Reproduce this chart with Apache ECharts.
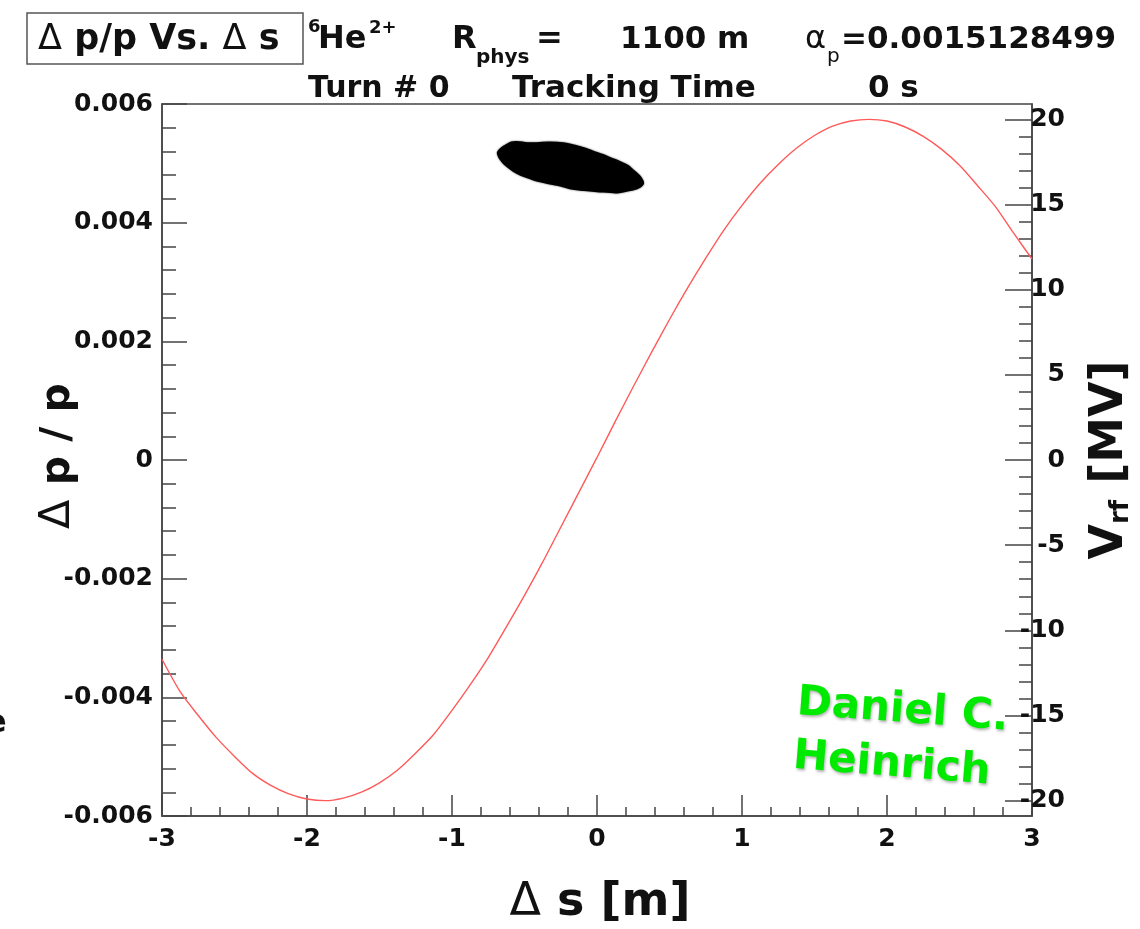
<!DOCTYPE html>
<html>
<head>
<meta charset="utf-8">
<title>Δ p/p Vs. Δ s</title>
<script src="https://cdn.jsdelivr.net/npm/echarts@6/dist/echarts.min.js"></script>
<style>
  html, body { margin: 0; padding: 0; background: #fff; }
  #chart { width: 1140px; height: 929px; }
</style>
</head>
<body>
<div id="chart"></div>
<script>
// RF voltage along the bunch coordinate: Δs [m] -> V_rf [MV]
const sValues   = [-3, -2.875, -2.75, -2.625, -2.5, -2.375, -2.25, -2.125, -2, -1.875, -1.75, -1.625,
                   -1.5, -1.375, -1.25, -1.125, -1, -0.875, -0.75, -0.625, -0.5, -0.375, -0.25, -0.125,
                   0, 0.125, 0.25, 0.375, 0.5, 0.625, 0.75, 0.875, 1, 1.125, 1.25, 1.375,
                   1.5, 1.625, 1.75, 1.875, 2, 2.125, 2.25, 2.375, 2.5, 2.625, 2.75, 2.875, 3];
const vrfValues = [-11.7, -13.6, -15.0, -16.3, -17.4, -18.4, -19.1, -19.6, -19.9, -20.0, -19.85, -19.5,
                   -18.95, -18.2, -17.2, -16.1, -14.7, -13.2, -11.6, -9.8, -7.95, -6.0, -3.95, -1.9,
                   0.15, 2.25, 4.3, 6.3, 8.25, 10.1, 11.85, 13.5, 14.95, 16.25, 17.35, 18.3,
                   19.05, 19.6, 19.9, 20.0, 19.9, 19.55, 19.0, 18.25, 17.3, 16.1, 14.85, 13.3, 11.8];

// Outline of the particle distribution (Δs [m], Δp/p) at turn 0
const blobS  = [-0.684, -0.660, -0.622, -0.590, -0.553, -0.480, -0.415, -0.330, -0.235, -0.160, -0.097,
                -0.030, 0.041, 0.100, 0.159, 0.210, 0.249, 0.290, 0.311, 0.318, 0.300, 0.276, 0.210,
                0.138, 0.070, 0.000, -0.090, -0.187, -0.260, -0.325, -0.400, -0.463, -0.530, -0.581, -0.650];
const blobDp = [0.00517, 0.00525, 0.00531, 0.00535, 0.00536, 0.00534, 0.00534, 0.00535, 0.00534, 0.00530, 0.00526,
                0.00520, 0.00514, 0.00508, 0.00502, 0.00496, 0.00488, 0.00479, 0.00472, 0.00466, 0.00461, 0.00458, 0.00454,
                0.00451, 0.00452, 0.00453, 0.00455, 0.00458, 0.00463, 0.00466, 0.00470, 0.00475, 0.00481, 0.00488, 0.00502];

// Axis ticks
const xTicks = [-3, -2, -1, 0, 1, 2, 3];
const dpTicks = [-0.006, -0.004, -0.002, 0, 0.002, 0.004, 0.006];
const vrfMajorTicks = [-20, -15, -10, -5, 0, 5, 10, 15, 20];
const vrfMinorTicks = Array.from({ length: 41 }, (_, i) => i - 20).filter(v => v % 5 !== 0);

const FONT = 'DejaVu Sans';
const AX = '#444';

const chart = echarts.init(document.getElementById('chart'), null, { renderer: 'canvas' });

const tickLabel = { color: '#111', fontFamily: FONT, fontWeight: 'bold', fontSize: 25 };

chart.setOption({
  animation: false,
  backgroundColor: '#fff',
  textStyle: { fontFamily: FONT },
  grid: {
    left: 162, right: 108, top: 104, bottom: 113,
    show: true, borderColor: AX, borderWidth: 1.5, backgroundColor: 'transparent'
  },
  xAxis: {
    type: 'value', min: xTicks[0], max: xTicks[xTicks.length - 1], interval: 1,
    axisLine: { onZero: false, lineStyle: { color: AX, width: 1.5 } },
    axisTick: { inside: true, length: 21, lineStyle: { color: AX, width: 1.5 } },
    minorTick: { show: true, splitNumber: 5, length: 9, lineStyle: { color: AX, width: 1.5 } },
    splitLine: { show: false },
    axisLabel: Object.assign({ margin: 11, showMinLabel: true, showMaxLabel: true }, tickLabel)
  },
  yAxis: [
    {
      type: 'value', position: 'left',
      min: dpTicks[0], max: dpTicks[dpTicks.length - 1], interval: 0.002,
      axisLine: { onZero: false, lineStyle: { color: AX, width: 1.5 } },
      axisTick: { inside: true, length: 25, lineStyle: { color: AX, width: 1.5 } },
      minorTick: { show: true, splitNumber: 5, length: 14, lineStyle: { color: AX, width: 1.5 } },
      splitLine: { show: false },
      axisLabel: Object.assign({
        margin: 9, showMinLabel: true, showMaxLabel: true,
        formatter: v => (Math.abs(v) < 1e-12 ? '0' : v.toFixed(3))
      }, tickLabel)
    },
    {
      type: 'value', position: 'right', offset: 0, min: -20.9, max: 20.9,
      axisLine: { show: true, onZero: false, lineStyle: { color: AX, width: 1.5 } },
      axisTick: { show: true, inside: true, length: 27, customValues: vrfMajorTicks, lineStyle: { color: AX, width: 1.5 } },
      splitLine: { show: false },
      axisLabel: Object.assign({ customValues: vrfMajorTicks, align: 'right', margin: 33 }, tickLabel)
    },
    {
      type: 'value', position: 'right', offset: 0, min: -20.9, max: 20.9,
      axisLine: { show: false, onZero: false },
      axisTick: { show: true, inside: true, length: 13, customValues: vrfMinorTicks, lineStyle: { color: AX, width: 1.5 } },
      splitLine: { show: false },
      axisLabel: { show: false }
    }
  ],
  series: [
    {
      name: 'V_rf', type: 'line', xAxisIndex: 0, yAxisIndex: 1,
      data: sValues.map((s, i) => [s, vrfValues[i]]),
      smooth: 0.25, showSymbol: false, silent: true,
      lineStyle: { color: '#ff5a5a', width: 1.4 }
    },
    {
      name: 'bunch', type: 'custom', xAxisIndex: 0, yAxisIndex: 0, silent: true,
      data: [0],
      renderItem: (params, api) => ({
        type: 'polygon',
        shape: { points: blobS.map((s, i) => api.coord([s, blobDp[i]])), smooth: 0.35 },
        style: { fill: '#000', stroke: '#000', lineWidth: 2, shadowBlur: 2, shadowColor: 'rgba(0,0,0,0.6)' }
      })
    }
  ],
  graphic: [
    // title box
    { type: 'rect', shape: { x: 27, y: 13, width: 276, height: 51 },
      style: { fill: '#fff', stroke: '#555', lineWidth: 1.5 } },
    { type: 'text', x: 38, y: 40,
      style: {
        text: '{g|Δ} p/p Vs. {g|Δ} s', align: 'left', verticalAlign: 'middle',
        fontFamily: FONT, fontWeight: 'bold', fontSize: 35, fill: '#111',
        rich: { g: { fontFamily: FONT, fontWeight: 'normal', fontSize: 35, fill: '#111' } }
      } },
    // beam / ring parameters
    { type: 'text', x: 308, y: 27, style: { text: '6', fontFamily: FONT, fontWeight: 'bold', fontSize: 18, fill: '#111', verticalAlign: 'middle' } },
    { type: 'text', x: 318, y: 40, style: { text: 'He', fontFamily: FONT, fontWeight: 'bold', fontSize: 32, fill: '#111', verticalAlign: 'middle' } },
    { type: 'text', x: 369, y: 28, style: { text: '2+', fontFamily: FONT, fontWeight: 'bold', fontSize: 18, fill: '#111', verticalAlign: 'middle' } },
    { type: 'text', x: 452, y: 40, style: { text: 'R', fontFamily: FONT, fontWeight: 'bold', fontSize: 32, fill: '#111', verticalAlign: 'middle' } },
    { type: 'text', x: 476, y: 58, style: { text: 'phys', fontFamily: FONT, fontWeight: 'bold', fontSize: 20, fill: '#111', verticalAlign: 'middle' } },
    { type: 'text', x: 536, y: 40, style: { text: '=', fontFamily: FONT, fontWeight: 'bold', fontSize: 32, fill: '#111', verticalAlign: 'middle' } },
    { type: 'text', x: 620, y: 40, style: { text: '1100 m', fontFamily: FONT, fontWeight: 'bold', fontSize: 31, fill: '#111', verticalAlign: 'middle' } },
    { type: 'text', x: 805, y: 40, style: { text: 'α', fontFamily: FONT, fontWeight: 'normal', fontSize: 32, fill: '#111', verticalAlign: 'middle' } },
    { type: 'text', x: 827, y: 57, style: { text: 'p', fontFamily: FONT, fontWeight: 'normal', fontSize: 20, fill: '#111', verticalAlign: 'middle' } },
    { type: 'text', x: 841, y: 40, style: { text: '=0.0015128499', fontFamily: FONT, fontWeight: 'bold', fontSize: 31, fill: '#111', verticalAlign: 'middle' } },
    { type: 'text', x: 308, y: 89, style: { text: 'Turn # 0', fontFamily: FONT, fontWeight: 'bold', fontSize: 30, fill: '#111', verticalAlign: 'middle' } },
    { type: 'text', x: 512, y: 89, style: { text: 'Tracking Time', fontFamily: FONT, fontWeight: 'bold', fontSize: 31, fill: '#111', verticalAlign: 'middle' } },
    { type: 'text', x: 868, y: 89, style: { text: '0 s', fontFamily: FONT, fontWeight: 'bold', fontSize: 31, fill: '#111', verticalAlign: 'middle' } },
    // axis titles
    { type: 'text', x: 58, y: 456, rotation: Math.PI / 2,
      style: {
        text: '{g|Δ} p / p', align: 'center', verticalAlign: 'middle',
        fontFamily: FONT, fontWeight: 'bold', fontSize: 41, fill: '#111',
        rich: { g: { fontFamily: FONT, fontWeight: 'normal', fontSize: 43, fill: '#111' } }
      } },
    { type: 'text', x: 600, y: 903,
      style: {
        text: '{g|Δ} s [m]', align: 'center', verticalAlign: 'middle',
        fontFamily: FONT, fontWeight: 'bold', fontSize: 46, fill: '#111',
        rich: { g: { fontFamily: FONT, fontWeight: 'normal', fontSize: 46, fill: '#111' } }
      } },
    { type: 'text', x: 1110, y: 460, rotation: Math.PI / 2,
      style: {
        text: 'V{s|rf} [MV]', align: 'center', verticalAlign: 'middle',
        fontFamily: FONT, fontWeight: 'bold', fontSize: 46, fill: '#111',
        rich: { s: { fontFamily: FONT, fontWeight: 'bold', fontSize: 26, fill: '#111', padding: [22, 0, 0, 0] } }
      } },
    // author credit
    { type: 'text', x: 797, y: 703, rotation: -0.075,
      style: { text: 'Daniel C.', fontFamily: FONT, fontWeight: 'bold', fontSize: 42, fill: '#00ea00',
               verticalAlign: 'middle', textShadowColor: 'rgba(0,0,0,0.3)', textShadowBlur: 3, textShadowOffsetX: 1, textShadowOffsetY: 2 } },
    { type: 'text', x: 793, y: 757, rotation: -0.08,
      style: { text: 'Heinrich', fontFamily: FONT, fontWeight: 'bold', fontSize: 42, fill: '#00ea00',
               verticalAlign: 'middle', textShadowColor: 'rgba(0,0,0,0.3)', textShadowBlur: 3, textShadowOffsetX: 1, textShadowOffsetY: 2 } },
    // letter cut off at the page edge
    { type: 'text', x: -15, y: 724, style: { text: 'e', fontFamily: FONT, fontWeight: 'bold', fontSize: 32, fill: '#111', verticalAlign: 'middle' } }
  ]
});
</script>
</body>
</html>
